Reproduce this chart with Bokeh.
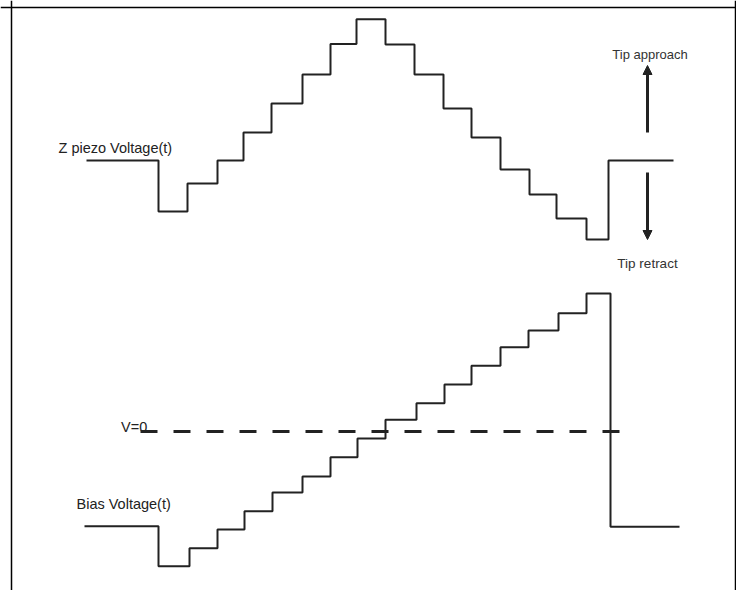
from bokeh.plotting import figure
from bokeh.models import Range1d, Span, Arrow, NormalHead, Label
from bokeh.embed import file_html
from bokeh.resources import INLINE

# ---- data (time in arbitrary units, voltages in arbitrary units) ----
z_times = [86, 158, 187, 217, 243, 271, 302, 330, 356, 385, 414, 443, 471, 500, 529, 556, 586, 608, 673]
z_levels = [434, 383, 411, 434, 462, 491, 520, 550.5, 575.3, 550, 520, 486, 457, 425, 400, 376, 355, 434]

bias_times = [84, 158, 189, 217, 244, 272, 302, 330, 357, 385, 416, 444, 471, 500, 528, 558, 586, 610, 679]
bias_levels = [68.3, 28.3, 46.3, 65, 83.3, 102, 118, 137.3, 156, 174.7, 191.3, 210, 228.7, 247.3, 264, 281.3, 301, 67.7]

zero_line_times = [140, 620]
zero_level = 163

labels = ["Z piezo Voltage(t)", "V=0", "Bias Voltage(t)", "Tip approach", "Tip retract"]

W, H = 736, 590
p = figure(width=W, height=H, output_backend="svg", toolbar_location=None,
           x_range=Range1d(0, 736), y_range=Range1d(4, 594),
           min_border=0, min_border_left=0, min_border_right=0,
           min_border_top=0, min_border_bottom=0)
p.axis.visible = False
p.xaxis.visible = False
p.yaxis.visible = False
p.grid.visible = False
p.outline_line_color = None
p.background_fill_color = "white"
p.border_fill_color = "white"

# frame (left, right, top)
for loc in [11, 735]:
    p.add_layout(Span(location=loc, dimension="height", line_color="black", line_width=1.5))
p.add_layout(Span(location=587, dimension="width", line_color="black", line_width=1.5))

trace_color = "#222222"
p.step(z_times, z_levels + [z_levels[-1]], mode="after", line_color=trace_color, line_width=2)
p.step(bias_times, bias_levels + [bias_levels[-1]], mode="after", line_color=trace_color, line_width=2)

p.line(zero_line_times, [zero_level, zero_level], line_color=trace_color, line_width=3, line_dash="17 16")

# arrows
p.add_layout(Arrow(x_start=647, y_start=462, x_end=647, y_end=529,
                   line_width=3, line_color=trace_color,
                   end=NormalHead(size=9, fill_color=trace_color, line_color=trace_color)))
p.add_layout(Arrow(x_start=647, y_start=422, x_end=647, y_end=355,
                   line_width=3, line_color=trace_color,
                   end=NormalHead(size=9, fill_color=trace_color, line_color=trace_color)))

font = "Liberation Sans"
p.add_layout(Label(x=58, y=446.5, text=labels[0], text_font=font, text_font_size="14.5px",
                   text_color="#222222", text_align="left", text_baseline="alphabetic"))
p.add_layout(Label(x=120.5, y=167.5, text=labels[1], text_font=font, text_font_size="14.5px",
                   text_color="#222222", text_align="left", text_baseline="alphabetic"))
p.add_layout(Label(x=76, y=90.5, text=labels[2], text_font=font, text_font_size="14.5px",
                   text_color="#222222", text_align="left", text_baseline="alphabetic"))
p.add_layout(Label(x=649.5, y=540, text=labels[3], text_font=font, text_font_size="13px",
                   text_color="#333333", text_align="center", text_baseline="alphabetic"))
p.add_layout(Label(x=647, y=331, text=labels[4], text_font=font, text_font_size="13.5px",
                   text_color="#333333", text_align="center", text_baseline="alphabetic"))

open("out.html", "w").write(file_html(p, INLINE))
